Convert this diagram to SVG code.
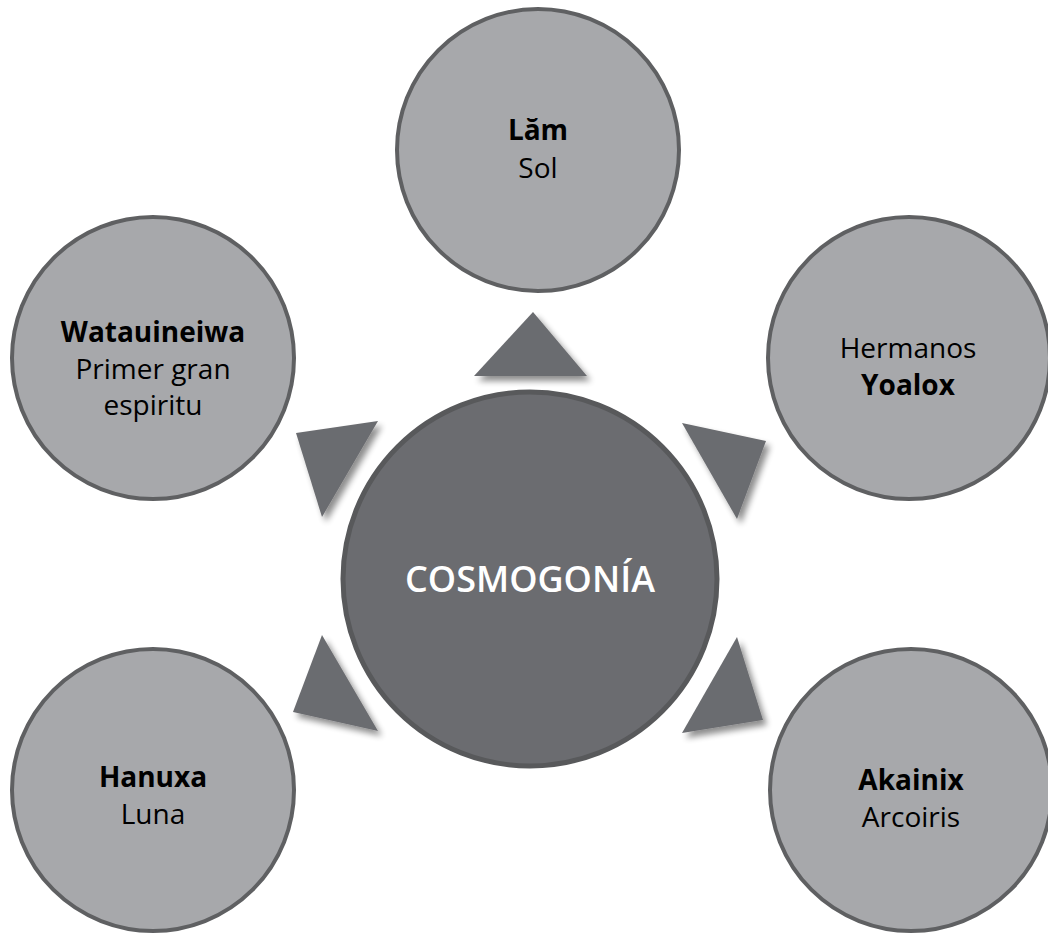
<svg xmlns="http://www.w3.org/2000/svg" width="1048" height="935" viewBox="0 0 1048 935">
<defs>
<filter id="sh" x="-30%" y="-30%" width="170%" height="170%">
<feGaussianBlur in="SourceAlpha" stdDeviation="3"/>
<feOffset dx="4" dy="5" result="b"/>
<feComponentTransfer><feFuncA type="linear" slope="0.45"/></feComponentTransfer>
<feMerge><feMergeNode/><feMergeNode in="SourceGraphic"/></feMerge>
</filter>
</defs>
<style>
.n{fill:#a7a8ab;stroke:#5f6062;stroke-width:4}
.c{fill:#6b6c70;stroke:#58595b;stroke-width:5}
.t{fill:#6b6c70;filter:url(#sh)}
text{font-family:"Open Sans","Liberation Sans",sans-serif;font-size:28px;fill:#000;text-anchor:middle}
.b{font-weight:700}
.w{fill:#fff;font-weight:600;font-size:36px}
</style>
<rect width="1048" height="935" fill="#fff"/>
<g id="connectors">
<polygon class="t" points="533,312 587,376 474,376"/>
<polygon class="t" points="296,433 378,421 322,517"/>
<polygon class="t" points="682,423 766,441 737,519"/>
<polygon class="t" points="322,635 378,731 293,712"/>
<polygon class="t" points="737,637 763,720 682,733"/>
</g>
<g id="center">
<circle class="c" cx="530" cy="579" r="187"/>
<text class="w" x="530" y="592">COSMOGONÍA</text>
</g>
<g id="lam">
<circle class="n" cx="538" cy="150" r="141"/>
<text class="b" x="538" y="140">Lăm</text>
<text x="538" y="178">Sol</text>
</g>
<g id="watauineiwa">
<circle class="n" cx="153" cy="358" r="141"/>
<text class="b" x="153" y="342">Watauineiwa</text>
<text x="153" y="379">Primer gran</text>
<text x="153" y="415">espiritu</text>
</g>
<g id="yoalox">
<circle class="n" cx="909" cy="358" r="141"/>
<text x="908" y="358">Hermanos</text>
<text class="b" x="908" y="395">Yoalox</text>
</g>
<g id="hanuxa">
<circle class="n" cx="153" cy="790" r="141"/>
<text class="b" x="153" y="787">Hanuxa</text>
<text x="153" y="824">Luna</text>
</g>
<g id="akainix">
<circle class="n" cx="911" cy="790" r="141"/>
<text class="b" x="911" y="790">Akainix</text>
<text x="911" y="827">Arcoiris</text>
</g>
</svg>
